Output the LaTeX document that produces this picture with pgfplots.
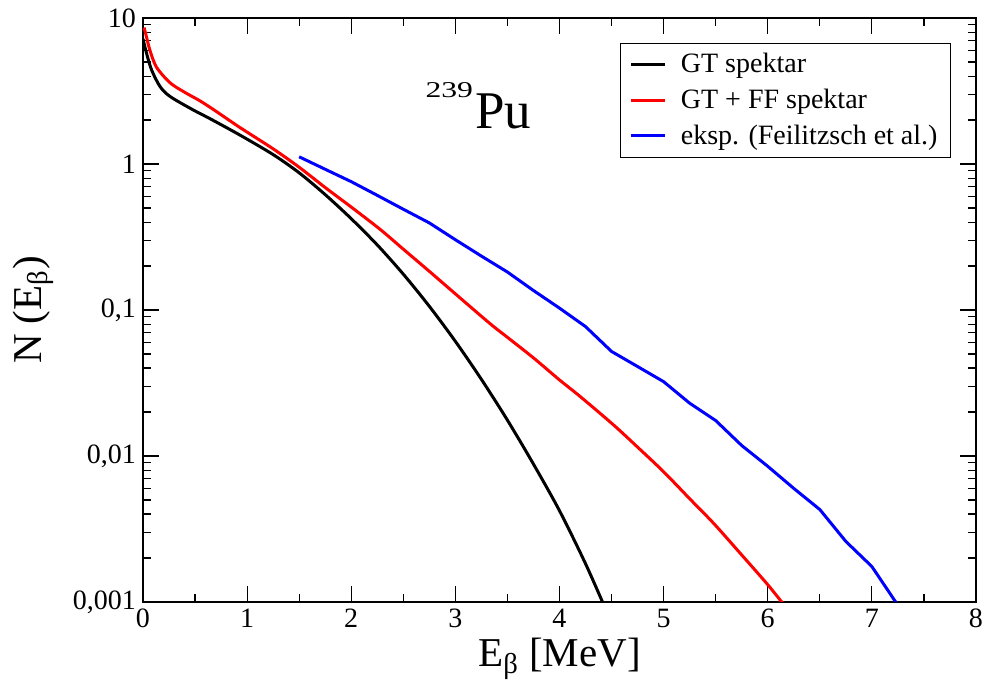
\documentclass[border=0pt]{standalone}
\usepackage{fontspec}
\setmainfont{Liberation Serif}
\usepackage{graphicx}
\usepackage{pgfplots}
\pgfplotsset{compat=1.18}

\begin{document}
\begin{tikzpicture}
\useasboundingbox (-71.5pt,-43.5pt) rectangle (422pt,301pt);
\begin{axis}[
  at={(0pt,0pt)}, anchor=south west,
  scale only axis, width=416.5pt, height=292pt,
  xmin=0, xmax=8, ymin=0.001, ymax=10,
  ymode=log,
  axis line style={line width=1pt},
  xtick={0,1,...,8}, minor x tick num=1,
  ytick={0.001,0.01,0.1,1,10},
  yticklabels={{0,001},{0,01},{0,1},1,10},
  tick align=inside,
  xtick pos=both, ytick pos=both,
  xticklabel pos=lower, yticklabel pos=left,
  major tick length=8pt, minor tick length=4pt,
  every tick/.style={black, line width=0.6pt},
  /pgf/number format/assume math mode=true,
  ticklabel style={font=\fontsize{14}{16}\selectfont},
  xlabel={E\textsubscript{β} [MeV]},
  ylabel={N (E\textsubscript{β})},
  label style={font=\fontsize{20.5}{25}\selectfont},
  xlabel style={at={(axis description cs:0.5,-0.1113)}, anchor=base},
  ylabel style={at={(axis description cs:-0.1216,0.5)}, anchor=base},
  legend style={at={(1,1)}, anchor=north east, xshift=-12.5pt, yshift=-12.5pt,
    draw=black, line width=0.5pt, font=\fontsize{14}{16}\selectfont,
    inner xsep=4.5pt, inner ysep=3pt, row sep=2.6pt},
  legend cell align=left,
  legend image code/.code={\draw[#1,line width=1.5pt] (0pt,0pt) -- (17pt,0pt); \path (22pt,0pt);},
]
\addplot[black, line width=1.5pt, smooth] coordinates {
  (0.0, 7.2) (0.035, 5.7) (0.083, 4.4) (0.163, 3.4) (0.26, 2.9)
  (0.48, 2.35) (0.64, 2.05) (0.93, 1.58) (1.25, 1.16) (1.5, 0.87)
  (1.75, 0.617) (2.0, 0.422) (2.25, 0.279) (2.5, 0.176) (2.75, 0.106)
  (3.0, 0.061) (3.25, 0.0335) (3.5, 0.0176) (3.75, 0.0088) (4.0, 0.00422)
  (4.25, 0.00183) (4.45, 0.00087)
};
\addlegendentry{GT spektar}
\addplot[red, line width=1.5pt, smooth] coordinates {
  (0.01, 8.6) (0.03, 7.6) (0.067, 6.0) (0.13, 4.6) (0.26, 3.6)
  (0.4, 3.1) (0.55, 2.7) (0.7, 2.3) (0.93, 1.78)
  (1.25, 1.27) (1.5, 0.95) (1.75, 0.69) (2.0, 0.507) (2.277, 0.357)
  (2.5, 0.261) (2.75, 0.184) (3.0, 0.129) (3.33, 0.081) (3.5, 0.065)
  (3.75, 0.047) (4.0, 0.0332) (4.2, 0.0255) (4.52, 0.0163)
  (4.75, 0.0115) (5.0, 0.0078) (5.25, 0.0051) (5.48, 0.00346)
  (5.75, 0.0021) (5.99, 0.00134) (6.135, 0.001) (6.2, 0.00088)
};
\addlegendentry{GT + FF spektar}
\addplot[blue, line width=1.5pt] coordinates {
  (1.5, 1.12) (1.75, 0.92) (2.0, 0.757) (2.25, 0.61) (2.5, 0.49)
  (2.75, 0.395) (3.0, 0.303) (3.25, 0.234) (3.5, 0.182) (3.75, 0.136)
  (4.0, 0.103) (4.25, 0.077) (4.5, 0.052) (4.75, 0.041) (5.0, 0.0323)
  (5.25, 0.0230) (5.5, 0.0175) (5.75, 0.0118) (6.0, 0.0085)
  (6.25, 0.0060) (6.5, 0.0043) (6.75, 0.0026) (7.0, 0.00175)
  (7.25, 0.00095)
};
\addlegendentry{eksp. (Feilitzsch et al.)}
\node[anchor=base west, inner sep=0pt] at (axis cs:2.71,1.756)
  {\raisebox{15.3pt}{\scalebox{1.4}[1]{\fontsize{11.3}{13}\selectfont 239}}\hspace{1pt}\fontsize{26.5}{30}\selectfont Pu};
\end{axis}
\end{tikzpicture}
\end{document}
